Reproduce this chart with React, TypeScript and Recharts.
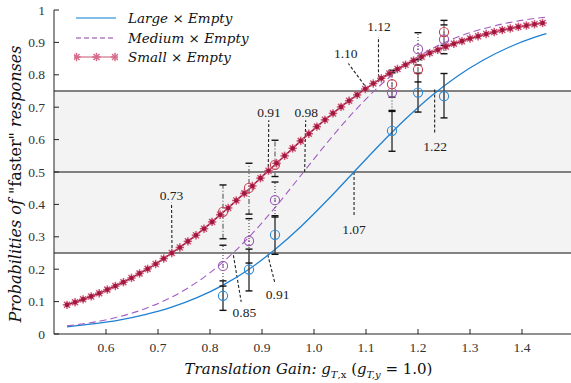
import { ComposedChart, Line, Scatter, XAxis, YAxis, ReferenceArea, ReferenceLine, ErrorBar, Legend } from 'recharts';

const NUM_FONT = '"Liberation Serif", serif';
const ITALIC_FONT = '"DejaVu Serif", serif';

// legend names
const seriesNames = ['Large × Empty', 'Medium × Empty', 'Small × Empty'];

// fitted curve for Small x Empty, read at each star marker
const smallX = [
  0.525, 0.5405, 0.556, 0.5715, 0.587, 0.6025, 0.618, 0.6335, 0.649, 0.6645,
  0.68, 0.6955, 0.711, 0.7265, 0.742, 0.7575, 0.773, 0.7885, 0.804, 0.8195,
  0.835, 0.8505, 0.866, 0.8815, 0.897, 0.9125, 0.928, 0.9435, 0.959, 0.9745,
  0.99, 1.0055, 1.021, 1.0365, 1.052, 1.0675, 1.083, 1.0985, 1.114, 1.1295,
  1.145, 1.1605, 1.176, 1.1915, 1.207, 1.2225, 1.238, 1.2535, 1.269, 1.2845,
  1.3, 1.3155, 1.331, 1.3465, 1.362, 1.3775, 1.393, 1.4085, 1.424, 1.4395,
];
const smallFit = [
  0.090, 0.098, 0.107, 0.116, 0.126, 0.137, 0.148, 0.160, 0.173, 0.187,
  0.201, 0.216, 0.233, 0.250, 0.267, 0.286, 0.305, 0.325, 0.346, 0.368,
  0.389, 0.412, 0.434, 0.457, 0.481, 0.504, 0.527, 0.550, 0.573, 0.596,
  0.618, 0.640, 0.661, 0.681, 0.701, 0.720, 0.738, 0.756, 0.773, 0.789,
  0.804, 0.818, 0.831, 0.844, 0.856, 0.867, 0.877, 0.887, 0.896, 0.904,
  0.912, 0.919, 0.926, 0.932, 0.938, 0.943, 0.948, 0.952, 0.956, 0.960,
];

// fitted curves for Large / Medium
const fitX = [0.525, 0.575, 0.625, 0.675, 0.725, 0.775, 0.825, 0.875, 0.925, 0.975, 1.025, 1.075, 1.125, 1.175, 1.225, 1.275, 1.325, 1.375, 1.425, 1.447];
const largeFit = [0.022, 0.031, 0.043, 0.060, 0.082, 0.112, 0.151, 0.200, 0.261, 0.332, 0.412, 0.497, 0.582, 0.662, 0.734, 0.795, 0.845, 0.885, 0.916, 0.927];
const mediumFit = [0.025, 0.036, 0.053, 0.078, 0.113, 0.160, 0.222, 0.299, 0.390, 0.490, 0.590, 0.683, 0.764, 0.829, 0.879, 0.916, 0.942, 0.961, 0.974, 0.978];

// observed proportions with error bounds
const gainLevels = [0.825, 0.875, 0.925, 1.15, 1.2, 1.25];
const largeObs = [0.118, 0.199, 0.306, 0.627, 0.745, 0.734];
const largeLow = [0.073, 0.133, 0.246, 0.564, 0.685, 0.667];
const largeHigh = [0.164, 0.262, 0.365, 0.687, 0.805, 0.804];
const mediumObs = [0.210, 0.287, 0.413, 0.745, 0.879, 0.909];
const mediumLow = [0.148, 0.219, 0.361, 0.690, 0.830, 0.865];
const mediumHigh = [0.274, 0.356, 0.469, 0.806, 0.930, 0.954];
const smallObs = [0.377, 0.451, 0.522, 0.771, 0.816, 0.932];
const smallLow = [0.294, 0.370, 0.486, 0.731, 0.778, 0.891];
const smallHigh = [0.460, 0.527, 0.598, 0.814, 0.847, 0.968];

// threshold / PSE callouts
const calloutText = ['0.73', '0.91', '0.98', '1.07', '1.10', '1.12', '1.22', '0.85', '0.91'];
const calloutFrom = [[0.727, 0.25], [0.912, 0.5], [0.982, 0.5], [1.077, 0.5], [1.103, 0.755], [1.124, 0.777], [1.232, 0.755], [0.845, 0.243], [0.911, 0.245]];
const calloutTo = [[0.726, 0.405], [0.913, 0.66], [0.984, 0.66], [1.077, 0.366], [1.066, 0.835], [1.124, 0.917], [1.232, 0.619], [0.860, 0.099], [0.925, 0.156]];
const calloutAt = [[0.726, 0.428], [0.9135, 0.685], [0.985, 0.685], [1.077, 0.323], [1.061, 0.867], [1.125, 0.95], [1.233, 0.58], [0.866, 0.066], [0.930, 0.122]];

const xTicks = [0.6, 0.7, 0.8, 0.9, 1.0, 1.1, 1.2, 1.3, 1.4];
const yTicks = [0, 0.1, 0.2, 0.3, 0.4, 0.5, 0.6, 0.7, 0.8, 0.9, 1];

const BLUE = '#1f80d2';
const PURPLE = '#a35dc4';
const RED = '#a3173f';
const STAR = '#cc5475';

const smallData = smallX.map((x, i) => ({ x, y: smallFit[i] }));
const largeData = fitX.map((x, i) => ({ x, y: largeFit[i] }));
const mediumData = fitX.map((x, i) => ({ x, y: mediumFit[i] }));

const obsData = (obs: number[], lo: number[], hi: number[]) =>
  gainLevels.map((x, i) => ({ x, y: obs[i], err: [obs[i] - lo[i], hi[i] - obs[i]] }));
const capData = (lo: number[], hi: number[]) =>
  gainLevels.flatMap((x, i) => [{ x, y: lo[i] }, { x, y: hi[i] }]);

const labelData = calloutText.map((text, i) => ({ x: calloutAt[i][0], y: calloutAt[i][1], text }));

const StarMark = ({ cx, cy, color, core }: any) => {
  const r = 4.2;
  const d = 3;
  return (
    <g>
      <line x1={cx - r} x2={cx + r} y1={cy} y2={cy} stroke={color} strokeWidth={1.5} />
      <line x1={cx} x2={cx} y1={cy - r} y2={cy + r} stroke={color} strokeWidth={1.5} />
      <line x1={cx - d} x2={cx + d} y1={cy - d} y2={cy + d} stroke={color} strokeWidth={1.5} />
      <line x1={cx - d} x2={cx + d} y1={cy + d} y2={cy - d} stroke={color} strokeWidth={1.5} />
      {core && <circle cx={cx} cy={cy} r={2.3} fill={core} />}
    </g>
  );
};

const starDot = (props: any) => {
  if (props.cx == null || props.cy == null) return <g key={`sd-${props.index}`} />;
  return <StarMark key={`sd-${props.index}`} cx={props.cx} cy={props.cy} color={STAR} core={RED} />;
};

const XTick = ({ x, y, payload }: any) => (
  <g>
    <line x1={x} x2={x} y1={y} y2={y - 5} stroke="#222" />
    <text x={x} y={y + 18} textAnchor="middle" fontFamily={NUM_FONT} fontSize={13.5} fill="#333">
      {Number(payload.value).toFixed(1)}
    </text>
  </g>
);

const YTick = ({ x, y, payload }: any) => {
  const v = Number(payload.value);
  const txt = v === 0 || v === 1 ? String(v) : v.toFixed(1);
  return (
    <g>
      <line x1={x} x2={x + 5} y1={y} y2={y} stroke="#222" />
      <text x={x - 9} y={y + 4.5} textAnchor="end" fontFamily={NUM_FONT} fontSize={13.5} fill="#333">
        {txt}
      </text>
    </g>
  );
};

const renderXLabel = ({ viewBox }: any) => {
  const cx = viewBox.x + viewBox.width / 2 - 4;
  const by = viewBox.y + 40;
  return (
    <text x={cx} y={by} textAnchor="middle" fontFamily={ITALIC_FONT} fontSize={15} fill="#111">
      <tspan fontStyle="italic">Translation Gain: g</tspan>
      <tspan fontSize={10} dy={4} fontStyle="italic">T</tspan>
      <tspan fontSize={10}>,x</tspan>
      <tspan dy={-4}> (</tspan>
      <tspan fontStyle="italic">g</tspan>
      <tspan fontSize={10} dy={4} fontStyle="italic">T,y</tspan>
      <tspan dy={-4}> = 1.0)</tspan>
    </text>
  );
};

const renderYLabel = () => (
  <text
    x={15}
    y={184}
    transform="rotate(-90 15 184)"
    textAnchor="middle"
    dominantBaseline="central"
    fontFamily={ITALIC_FONT}
    fontSize={16}
    fill="#111"
  >
    <tspan fontStyle="italic">Probabilities of </tspan>
    <tspan>"faster"</tspan>
    <tspan fontStyle="italic"> responses</tspan>
  </text>
);

const LegendBox = () => (
  <div style={{ fontFamily: ITALIC_FONT, fontStyle: 'italic', fontSize: 13.5, color: '#111' }}>
    {seriesNames.map((name, i) => (
      <div key={name} style={{ display: 'flex', alignItems: 'center', height: 19.5 }}>
        <svg width={44} height={12} style={{ marginRight: 10 }}>
          {i === 0 && <line x1={2} x2={42} y1={6} y2={6} stroke="#5aa8e0" strokeWidth={1.3} />}
          {i === 1 && <line x1={2} x2={42} y1={6} y2={6} stroke="#8b3aa8" strokeWidth={1.1} strokeDasharray="5 3" />}
          {i === 2 && (
            <g>
              <line x1={2} x2={42} y1={6} y2={6} stroke="#c75575" strokeWidth={1} />
              <StarMark cx={2.5} cy={6} color="#d66a89" />
              <StarMark cx={22.5} cy={6} color="#d66a89" />
              <StarMark cx={41} cy={6} color="#d66a89" />
            </g>
          )}
        </svg>
        <span>{name}</span>
      </div>
    ))}
  </div>
);

const circleShape = (color: string, dotted: boolean) => (props: any) => (
  <g>
    <circle cx={props.cx} cy={props.cy} r={4.6} fill="none" stroke={color} strokeWidth={1.1} />
    {dotted && <circle cx={props.cx} cy={props.cy} r={0.9} fill={color} />}
  </g>
);

const capShape = (props: any) => (
  <line x1={props.cx - 3.5} x2={props.cx + 3.5} y1={props.cy} y2={props.cy} stroke="#111" strokeWidth={1.4} />
);

const textShape = (props: any) => (
  <text x={props.cx} y={props.cy + 4.5} textAnchor="middle" fontFamily={NUM_FONT} fontSize={13.5} fill="#222">
    {props.payload.text}
  </text>
);

const noShape = () => <g />;

export default function App() {
  return (
    <div style={{ position: 'absolute', left: 0, top: 0, background: '#fff' }}>
      <ComposedChart width={571} height={383} margin={{ top: 10, right: 0, bottom: 0, left: 0 }}>
        <XAxis
          type="number"
          dataKey="x"
          domain={[0.5, 1.4942]}
          ticks={xTicks}
          height={49}
          tickSize={0}
          tickMargin={0}
          tick={<XTick />}
          axisLine={{ stroke: '#222' }}
          tickLine={false}
          allowDataOverflow
          label={{ content: renderXLabel }}
        />
        <YAxis
          type="number"
          dataKey="y"
          domain={[0, 1]}
          ticks={yTicks}
          width={54}
          tickSize={0}
          tickMargin={0}
          tick={<YTick />}
          axisLine={{ stroke: '#222' }}
          tickLine={false}
          allowDataOverflow
          label={{ content: renderYLabel }}
        />
        <ReferenceArea y1={0.25} y2={0.75} fill="#f3f3f3" fillOpacity={1} stroke="none" />
        <ReferenceLine y={0.25} stroke="#5a5a5a" strokeWidth={1.3} />
        <ReferenceLine y={0.5} stroke="#5a5a5a" strokeWidth={1.3} />
        <ReferenceLine y={0.75} stroke="#5a5a5a" strokeWidth={1.3} />

        {calloutText.map((t, i) => (
          <ReferenceLine
            key={`c-${i}`}
            segment={[
              { x: calloutFrom[i][0], y: calloutFrom[i][1] },
              { x: calloutTo[i][0], y: calloutTo[i][1] },
            ]}
            stroke="#222"
            strokeWidth={1.1}
            strokeDasharray="3 2"
            ifOverflow="visible"
          />
        ))}

        <Line data={largeData} dataKey="y" type="monotone" stroke={BLUE} strokeWidth={1.3} dot={false} isAnimationActive={false} />
        <Line data={mediumData} dataKey="y" type="monotone" stroke={PURPLE} strokeWidth={1.1} strokeDasharray="7 4" dot={false} isAnimationActive={false} />
        <Line data={smallData} dataKey="y" type="monotone" stroke={RED} strokeWidth={1.5} dot={starDot} isAnimationActive={false} />

        <Scatter data={obsData(largeObs, largeLow, largeHigh)} dataKey="y" shape={noShape} isAnimationActive={false}>
          <ErrorBar dataKey="err" direction="y" width={0} stroke="#444" strokeWidth={1.5} />
        </Scatter>
        <Scatter data={obsData(mediumObs, mediumLow, mediumHigh)} dataKey="y" shape={noShape} isAnimationActive={false}>
          <ErrorBar dataKey="err" direction="y" width={0} stroke="#666" strokeWidth={1.4} strokeDasharray="1 2" />
        </Scatter>
        <Scatter data={obsData(smallObs, smallLow, smallHigh)} dataKey="y" shape={noShape} isAnimationActive={false}>
          <ErrorBar dataKey="err" direction="y" width={0} stroke="#777" strokeWidth={1.4} strokeDasharray="5 2 1 2" />
        </Scatter>

        <Scatter data={capData(largeLow, largeHigh)} dataKey="y" shape={capShape} isAnimationActive={false} />
        <Scatter data={capData(mediumLow, mediumHigh)} dataKey="y" shape={capShape} isAnimationActive={false} />
        <Scatter data={capData(smallLow, smallHigh)} dataKey="y" shape={capShape} isAnimationActive={false} />

        <Scatter data={obsData(largeObs, largeLow, largeHigh)} dataKey="y" shape={circleShape('#2b8ad6', false)} isAnimationActive={false} />
        <Scatter data={obsData(mediumObs, mediumLow, mediumHigh)} dataKey="y" shape={circleShape('#9b59b6', true)} isAnimationActive={false} />
        <Scatter data={obsData(smallObs, smallLow, smallHigh)} dataKey="y" shape={circleShape('#c8404f', false)} isAnimationActive={false} />

        <Scatter data={labelData} dataKey="y" shape={textShape} isAnimationActive={false} />

        <Legend
          layout="vertical"
          align="center"
          verticalAlign="middle"
          wrapperStyle={{ top: 8.5, left: 74, width: 'auto' }}
          content={<LegendBox />}
        />
      </ComposedChart>
    </div>
  );
}
